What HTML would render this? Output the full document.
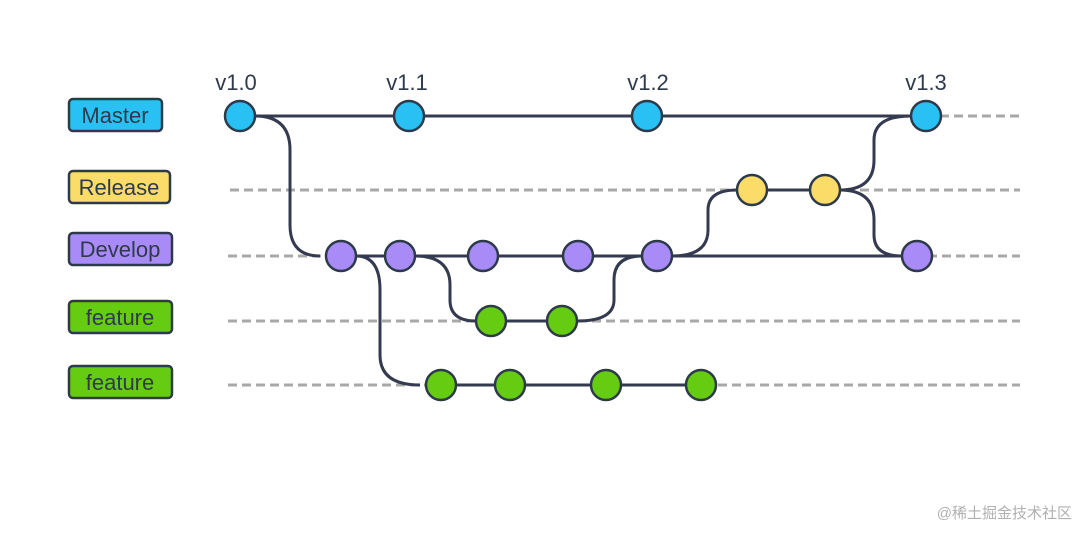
<!DOCTYPE html>
<html><head><meta charset="utf-8"><style>
body{margin:0;width:1080px;height:529px;background:#fff;overflow:hidden;font-family:"Liberation Sans","Noto Sans CJK SC",sans-serif}
</style></head><body>
<svg width="1080" height="529" xmlns="http://www.w3.org/2000/svg">
<g stroke="#a8a8a8" stroke-width="3" stroke-dasharray="9,5" fill="none">
<line x1="940" y1="116" x2="1020" y2="116"/>
<line x1="230" y1="190" x2="1020" y2="190"/>
<line x1="228" y1="256" x2="1020" y2="256"/>
<line x1="228" y1="321" x2="1020" y2="321"/>
<line x1="228" y1="385" x2="1020" y2="385"/>
</g>
<g stroke="#343a4f" stroke-width="3" fill="none">
<line x1="240" y1="116" x2="926" y2="116"/>
<line x1="341" y1="256" x2="917" y2="256"/>
<line x1="752" y1="190" x2="825" y2="190"/>
<line x1="491" y1="321" x2="562" y2="321"/>
<line x1="441" y1="385" x2="701" y2="385"/>
<path d="M255 116 Q290 116 290 150 L290 225 Q290 256 320 256"/>
<path d="M356 256 Q380 256 380 290 L380 355 Q380 385 420 385"/>
<path d="M415 256 Q450 256 450 285 L450 300 Q450 321 476 321"/>
<path d="M577 321 Q614 321 614 300 L614 280 Q614 256 642 256"/>
<path d="M672 256 Q708 256 708 230 L708 210 Q708 190 737 190"/>
<path d="M840 190 Q874 190 874 160 L874 140 Q874 116 911 116"/>
<path d="M840 190 Q874 190 874 220 L874 235 Q874 256 902 256"/>
</g>
<g stroke="#2d3a4a" stroke-width="2.5">
<g fill="#29c1f4"><circle cx="240" cy="116" r="15"/><circle cx="409" cy="116" r="15"/><circle cx="647" cy="116" r="15"/><circle cx="926" cy="116" r="15"/></g>
<g fill="#fbdc68"><circle cx="752" cy="190" r="15"/><circle cx="825" cy="190" r="15"/></g>
<g fill="#a98bf7"><circle cx="341" cy="256" r="15"/><circle cx="400" cy="256" r="15"/><circle cx="483" cy="256" r="15"/><circle cx="578" cy="256" r="15"/><circle cx="657" cy="256" r="15"/><circle cx="917" cy="256" r="15"/></g>
<g fill="#66cc11"><circle cx="491" cy="321" r="15"/><circle cx="562" cy="321" r="15"/><circle cx="441" cy="385" r="15"/><circle cx="510" cy="385" r="15"/><circle cx="606" cy="385" r="15"/><circle cx="701" cy="385" r="15"/></g>
</g>
<g stroke="#2d3a4a" stroke-width="2.5">
<rect x="69" y="99" width="93" height="32" rx="4" fill="#29c1f4"/>
<rect x="69" y="171" width="101" height="32" rx="4" fill="#fbdc68"/>
<rect x="69" y="233" width="103" height="32" rx="4" fill="#a98bf7"/>
<rect x="69" y="301" width="103" height="32" rx="4" fill="#66cc11"/>
<rect x="69" y="366" width="103" height="32" rx="4" fill="#66cc11"/>
</g>
<g font-size="22" fill="#2f3a4c" text-anchor="middle">
<text x="115" y="123">Master</text>
<text x="119" y="195">Release</text>
<text x="120" y="257">Develop</text>
<text x="120" y="325">feature</text>
<text x="120" y="390">feature</text>
<text x="236" y="90">v1.0</text>
<text x="407" y="90">v1.1</text>
<text x="648" y="90">v1.2</text>
<text x="926" y="90">v1.3</text>
</g>
<text x="1072" y="518" font-size="15" fill="#b0b0b0" text-anchor="end">@稀土掘金技术社区</text>
</svg>
</body></html>
